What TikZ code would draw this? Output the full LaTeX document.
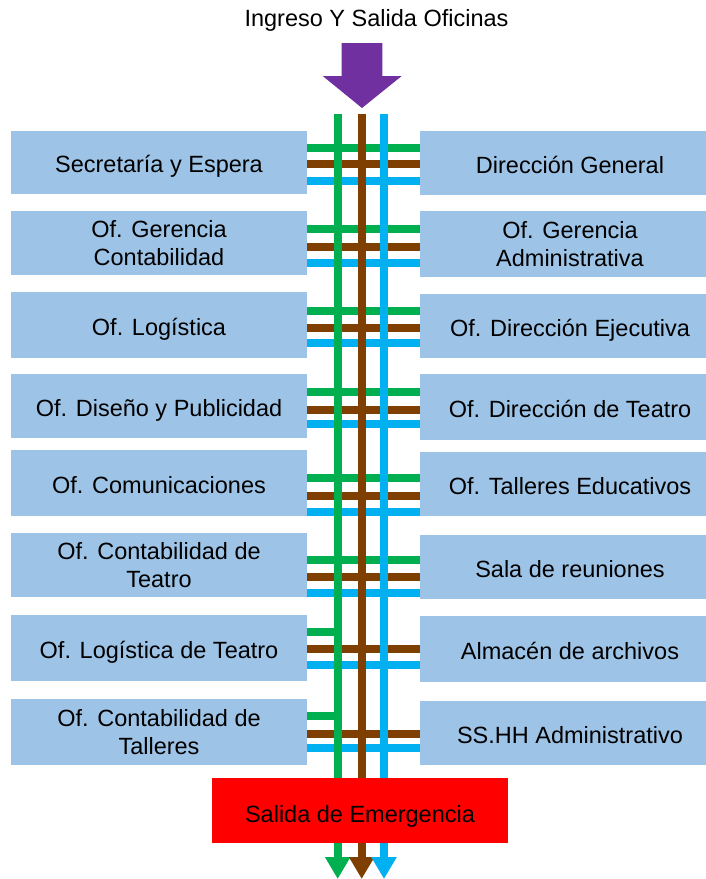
\documentclass[tikz,border=0pt]{standalone}
\usepackage{fontspec}
\setmainfont{Liberation Sans}
\usetikzlibrary{arrows.meta}
\definecolor{boxblue}{HTML}{9DC3E6}
\definecolor{lgreen}{HTML}{00B050}
\definecolor{lbrown}{HTML}{7F3F00}
\definecolor{lblue}{HTML}{00B0F0}
\definecolor{arrpurple}{HTML}{7030A0}
\definecolor{exitred}{HTML}{FF0000}
\begin{document}
\begin{tikzpicture}[x=1pt,y=-1pt,
  txt/.style={font=\fontsize{23.5}{28}\selectfont, text=black},
  room/.style={txt, fill=boxblue, inner sep=0pt, align=center},
  oneline/.style={text height=21pt, text depth=0pt},
  lroom/.style={room, minimum width=296pt},
  rroom/.style={room, minimum width=300pt},
  wire/.style={line width=8pt},
  gline/.style={wire, draw=lgreen},
  bline/.style={wire, draw=lbrown},
  cline/.style={wire, draw=lblue},
  tip/.style={-{Triangle[width=24pt,length=22pt]}}
]
\clip (0,0) rectangle (706,879);

% title
\node[txt, anchor=base] (title) at (376.5,26) {Ingreso Y Salida Oficinas};

% entry arrow
\path[fill=arrpurple] (341.7,43) -- (382.3,43) -- (382.3,76) -- (401.7,76)
  -- (362,108) -- (322.7,76) -- (341.7,76) -- cycle;

% left rooms
\node[lroom, oneline, minimum height=62.7pt] (L1) at (159,162.3) {Secretaría y Espera};
\node[lroom, minimum height=63.7pt] (L2) at (159,242.8) {Of. Gerencia\\Contabilidad};
\node[lroom, oneline, minimum height=65.7pt] (L3) at (159,324.8) {Of. Logística};
\node[lroom, oneline, minimum height=63.7pt] (L4) at (159,405.8) {Of. Diseño y Publicidad};
\node[lroom, oneline, minimum height=65.7pt] (L5) at (159,482.8) {Of. Comunicaciones};
\node[lroom, minimum height=63.7pt] (L6) at (159,564.8) {Of. Contabilidad de\\Teatro};
\node[lroom, oneline, minimum height=65.7pt] (L7) at (159,647.8) {Of. Logística de Teatro};
\node[lroom, minimum height=65.7pt] (L8) at (159,731.8) {Of. Contabilidad de\\Talleres};

% right rooms
\node[rroom, oneline, minimum height=63.7pt] (R1) at (570,162.8) {Dirección General};
\node[rroom, minimum height=65.7pt] (R2) at (570,243.8) {Of. Gerencia\\Administrativa};
\node[rroom, oneline, minimum height=63.7pt] (R3) at (570,325.8) {Of. Dirección Ejecutiva};
\node[rroom, oneline, minimum height=65.7pt] (R4) at (570,406.8) {Of. Dirección de Teatro};
\node[rroom, oneline, minimum height=63.4pt] (R5) at (570,484) {Of. Talleres Educativos};
\node[rroom, oneline, minimum height=63.7pt] (R6) at (570,566.8) {Sala de reuniones};
\node[rroom, oneline, minimum height=65.7pt] (R7) at (570,648.8) {Almacén de archivos};
\node[rroom, oneline, minimum height=64pt] (R8) at (570,733) {SS.HH Administrativo};

% horizontal branches
\foreach \r/\g/\b/\c in {1/147.7/164.3/181, 2/229/247/263, 3/311/327.7/343,
                         4/392/410/424, 5/478/496/512, 6/560/577/593}{
  \draw[gline] (L\r.east |- 0,\g) -- (R\r.west |- 0,\g);
  \draw[bline] (L\r.east |- 0,\b) -- (R\r.west |- 0,\b);
  \draw[cline] (L\r.east |- 0,\c) -- (R\r.west |- 0,\c);
}
\foreach \r/\g/\b/\c in {7/632/649/665, 8/716/734/748}{
  \draw[gline] (L\r.east |- 0,\g) -- (337.7,\g);
  \draw[bline] (L\r.east |- 0,\b) -- (R\r.west |- 0,\b);
  \draw[cline] (L\r.east |- 0,\c) -- (R\r.west |- 0,\c);
}

% main vertical lines
\coordinate (gtop) at (337.7,114);
\coordinate (btop) at (361.7,114);
\coordinate (ctop) at (384,114);
\coordinate (gbot) at (337.7,879);
\coordinate (bbot) at (361.7,879);
\coordinate (cbot) at (384,879);
\draw[gline, tip] (gtop) -- (gbot);
\draw[bline, tip] (btop) -- (bbot);
\draw[cline, tip] (ctop) -- (cbot);

% emergency exit
\node[txt, fill=exitred, inner sep=0pt, text height=23pt, text depth=0pt,
  minimum width=295.7pt, minimum height=65.6pt]
  (exit) at (360,810.5) {Salida de Emergencia};
\end{tikzpicture}
\end{document}
